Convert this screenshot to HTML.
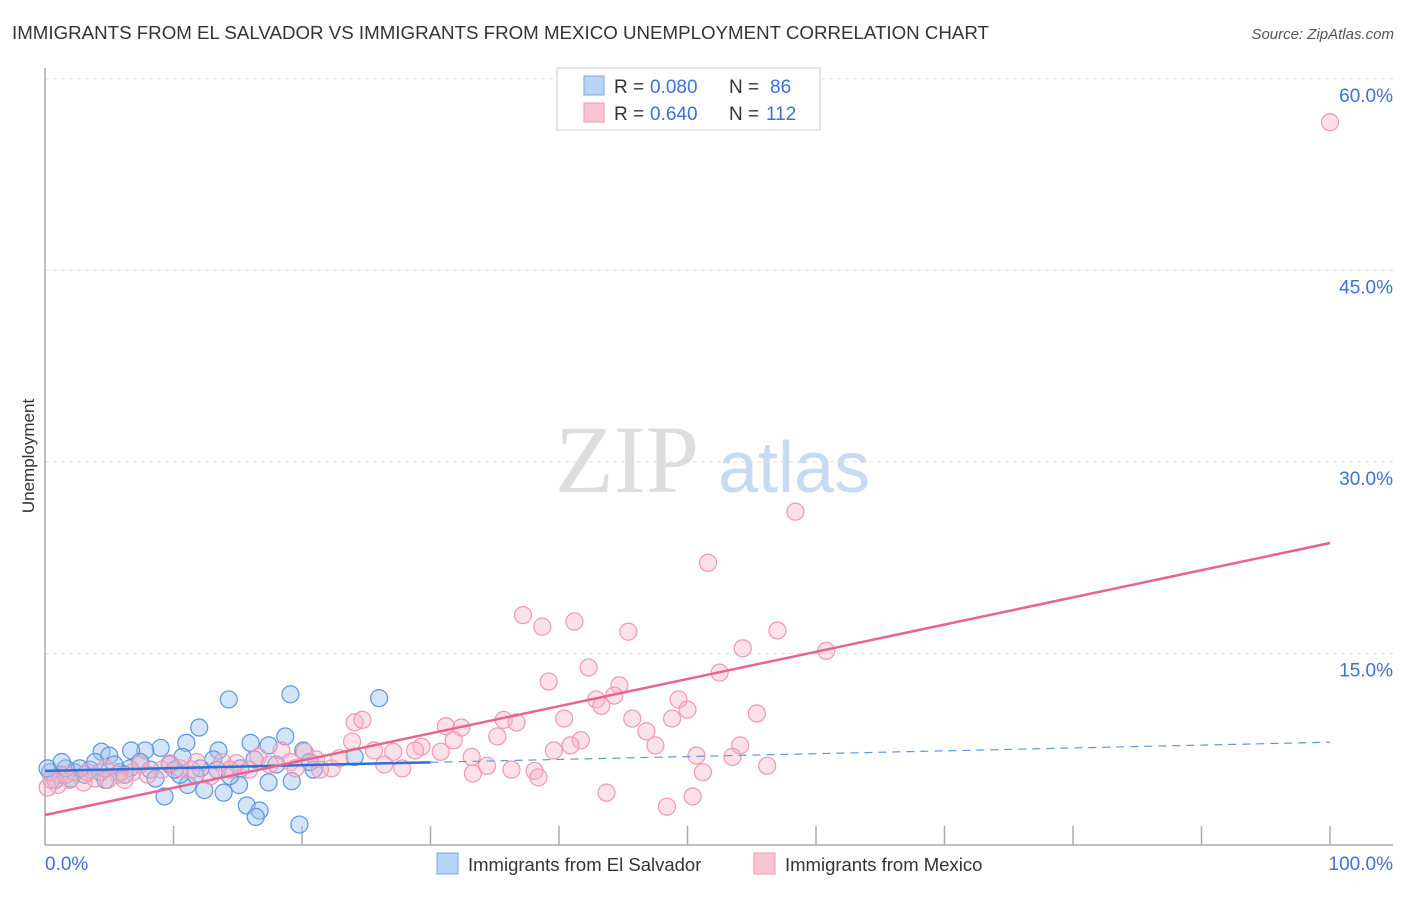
<!DOCTYPE html>
<html><head><meta charset="utf-8"><style>
body{margin:0;background:#fff;font-family:"Liberation Sans",sans-serif}
</style></head><body>
<svg id="c" width="1406" height="892" viewBox="0 0 1406 892" xmlns="http://www.w3.org/2000/svg">
<text x="12" y="39" font-size="18" fill="#333" textLength="977" lengthAdjust="spacingAndGlyphs">IMMIGRANTS FROM EL SALVADOR VS IMMIGRANTS FROM MEXICO UNEMPLOYMENT CORRELATION CHART</text>
<text x="1394" y="39" font-size="15" fill="#555" font-style="italic" text-anchor="end">Source: ZipAtlas.com</text>
<text x="34" y="456" font-size="17" fill="#333" transform="rotate(-90 34 456)" text-anchor="middle">Unemployment</text>
<g><text x="555" y="492" font-size="96" font-family="Liberation Serif,serif" fill="#ddd">ZIP</text><text x="718" y="492" font-size="72" fill="#c6dbf3">atlas</text></g>
<g id="grid"></g><g id="axes"></g><g id="pts"></g><g id="lines"></g>
<g>
<rect x="557" y="68" width="263" height="62" fill="#fff" stroke="#ccc"/>
<rect x="584" y="76" width="20" height="19" fill="#b9d3f5" stroke="#7aa6e6"/>
<rect x="584" y="103" width="20" height="19" fill="#f9c5d3" stroke="#ee99b2"/>
<text x="614" y="93" font-size="19" fill="#333">R =</text><text x="650" y="93" font-size="19" fill="#3a72d8">0.080</text>
<text x="729" y="93" font-size="19" fill="#333">N =</text><text x="770" y="93" font-size="19" fill="#3a72d8">86</text>
<text x="614" y="120" font-size="19" fill="#333">R =</text><text x="650" y="120" font-size="19" fill="#3a72d8">0.640</text>
<text x="729" y="120" font-size="19" fill="#333">N =</text><text x="766" y="120" font-size="19" fill="#3a72d8">112</text>
</g>
<g>
<rect x="437" y="853" width="21" height="21" fill="#b9d3f5" stroke="#7aa6e6"/>
<text x="468" y="871" font-size="18.5" fill="#333">Immigrants from El Salvador</text>
<rect x="754" y="853" width="21" height="21" fill="#f9c5d3" stroke="#ee99b2"/>
<text x="785" y="871" font-size="18.5" fill="#333">Immigrants from Mexico</text>
</g>
</svg>
<script>
const yTicks=[15,30,45,60];
const yTickLabels=["15.0%","30.0%","45.0%","60.0%"];
const xTickVals=[10,20,30,40,50,60,70,80,90,100];
const blueX=[14.3,19.1,26.0,12.0,18.7,16.0,17.4,11.0,13.5,9.0,7.8,6.7,4.4,5.0,20.1,10.7,13.1,24.1,9.3,11.1,12.4,13.9,15.1,15.7,16.7,16.4,19.8,19.2,17.4,20.9,13.4,12.1,10.5,14.4,15.2,8.2,6.6,5.8,3.5,2.3,1.2,0.4,0.8,2.0,3.1,4.3,5.4,7.4,9.7,3.9,2.7,1.6,0.2,4.7,6.2,8.6,10.1,11.7,16.3,18.0,20.6,1.3];
const blueY=[11.4,11.8,11.5,9.2,8.5,8.0,7.8,8.0,7.4,7.6,7.4,7.4,7.3,7.0,7.4,6.9,6.7,6.9,3.8,4.7,4.3,4.1,4.7,3.1,2.7,2.2,1.6,5.0,4.9,5.9,5.9,6.0,5.5,5.4,6.0,5.9,6.0,5.7,5.9,5.7,5.5,5.7,5.1,5.2,5.5,5.7,6.3,6.5,6.3,6.5,6.0,6.0,6.0,5.1,5.5,5.2,5.9,5.5,6.7,6.3,6.5,6.5];
const pinkX=[100,58.4,51.6,37.2,38.7,41.2,45.4,57.0,54.3,60.8,42.3,52.5,39.2,44.7,44.3,42.9,43.3,49.3,50.0,55.4,45.7,48.8,40.4,35.7,36.7,31.2,32.4,24.1,24.7,23.9,46.8,35.2,31.8,41.7,40.9,47.5,54.1,39.6,50.7,53.5,29.3,30.8,28.8,33.2,27.1,25.6,26.4,27.8,33.3,34.4,36.3,38.1,38.4,51.2,56.2,43.7,48.4,50.4,22.3,21.1,20.2,18.4,16.6,14.9,13.8,11.8,11.4,12.9,10.5,9.1,8.0,6.8,5.7,4.9,3.9,3.0,1.9,1.0,0.2,0.5,1.6,3.3,6.2,7.4,9.7,15.9,17.5,19.1,22.9,21.4,19.5,14.4,4.7];
const pinkY=[56.6,26.1,22.1,18.0,17.1,17.5,16.7,16.8,15.4,15.2,13.9,13.5,12.8,12.5,11.7,11.4,10.9,11.4,10.6,10.3,9.9,9.9,9.9,9.8,9.6,9.3,9.2,9.6,9.8,8.1,8.9,8.5,8.2,8.2,7.8,7.8,7.8,7.4,7.0,6.9,7.7,7.3,7.4,6.9,7.3,7.4,6.3,6.0,5.6,6.2,5.9,5.8,5.3,5.7,6.2,4.1,3.0,3.8,6.0,6.7,7.3,7.4,6.9,6.4,6.5,6.5,5.9,5.4,6.0,5.9,5.5,5.7,5.5,5.1,5.2,4.9,5.1,4.7,4.5,5.1,5.5,5.7,5.1,6.3,6.4,5.9,6.3,6.5,6.8,5.9,6.0,5.9,6.0];
const blueTrend=[5.8,8.05];
const pinkTrend=[2.35,23.65];
const X=v=>45+v*12.85, Y=v=>845-v*12.77;
const NS="http://www.w3.org/2000/svg";
function mk(p,t,a){const e=document.createElementNS(NS,t);for(const k in a)e.setAttribute(k,a[k]);document.getElementById(p).appendChild(e);return e;}
yTicks.forEach((t,i)=>{
 const g=mk('grid','line',{x1:45,x2:1393,y1:Y(t),y2:Y(t),stroke:'#ddd','stroke-dasharray':'4,4'});
 
 
 const l=mk('grid','text',{x:1393,y:Y(t)+23,'font-size':19,fill:'#3a72d8','text-anchor':'end'});l.textContent=yTickLabels[i];
 
 
});
mk('axes','line',{x1:45,x2:45,y1:68,y2:845,stroke:'#aaa','stroke-width':1.5});
mk('axes','line',{x1:45,x2:1393,y1:845,y2:845,stroke:'#aaa','stroke-width':1.5});
xTickVals.forEach(t=>{const e=mk('axes','line',{x1:X(t),x2:X(t),y1:826,y2:845,stroke:'#aaa','stroke-width':1.5});
 
 });
let a=mk('axes','text',{x:45,y:870,'font-size':19,fill:'#3a72d8'});a.textContent='0.0%';

a=mk('axes','text',{x:1393,y:870,'font-size':19,fill:'#3a72d8','text-anchor':'end'});a.textContent='100.0%';

blueX.forEach((x,i)=>{const c=mk('pts','circle',{cx:X(x),cy:Y(blueY[i]),r:8.5,fill:'rgba(160,196,240,0.45)',stroke:'#5b95e0','stroke-width':1.2});
 
 });
pinkX.forEach((x,i)=>{const c=mk('pts','circle',{cx:X(x),cy:Y(pinkY[i]),r:8.5,fill:'rgba(248,180,200,0.4)',stroke:'#ef98b3','stroke-width':1.2});
 
 });
const bAt=v=>blueTrend[0]+(blueTrend[1]-blueTrend[0])*v/100;
let l=mk('lines','line',{x1:X(0),y1:Y(bAt(0)),x2:X(30),y2:Y(bAt(30)),stroke:'#2f6fd6','stroke-width':2.5});

l=mk('lines','line',{x1:X(30),y1:Y(bAt(30)),x2:X(100),y2:Y(bAt(100)),stroke:'#5b95e0','stroke-width':1.2,'stroke-dasharray':'8,6'});

l=mk('lines','line',{x1:X(0),y1:Y(pinkTrend[0]),x2:X(100),y2:Y(pinkTrend[1]),stroke:'#e8638e','stroke-width':2.5});

</script>
</body></html>
